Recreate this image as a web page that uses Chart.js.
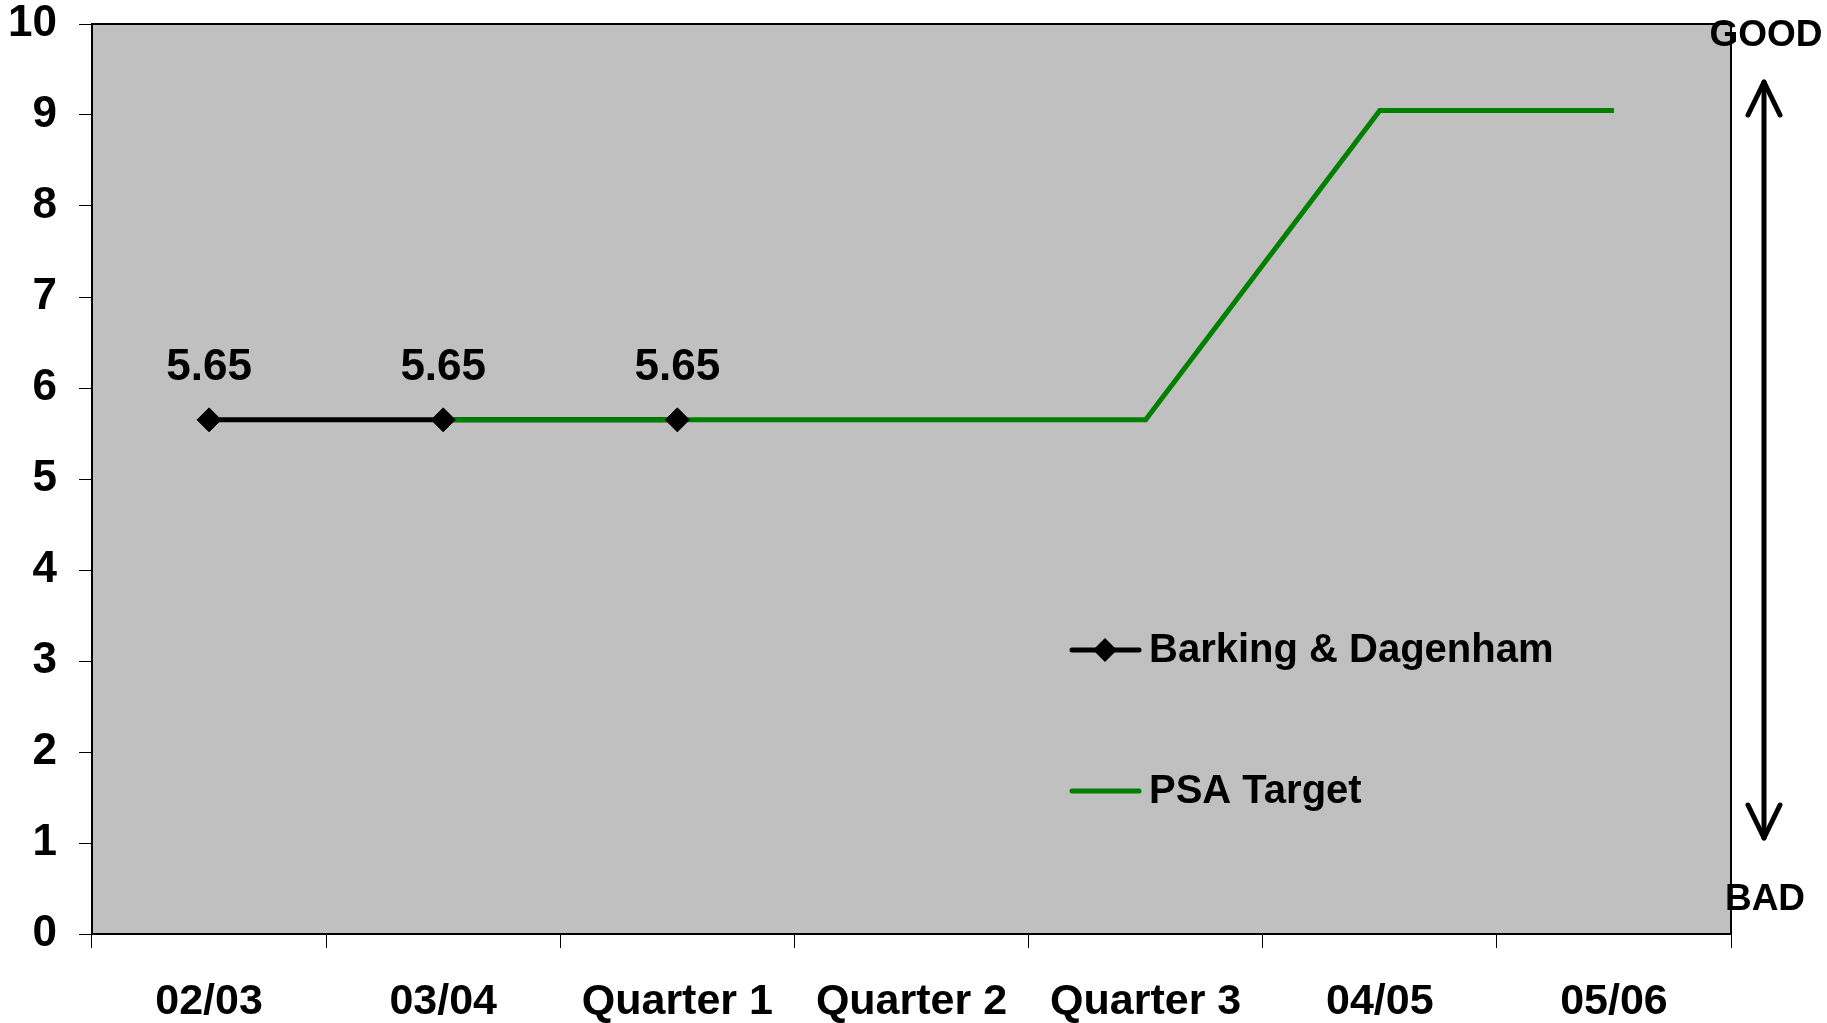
<!DOCTYPE html>
<html>
<head>
<meta charset="utf-8">
<script src="https://cdn.jsdelivr.net/npm/chart.js@4/dist/chart.umd.min.js"></script>
<style>
  body { margin: 0; background: #fff; }
  #wrap { width: 1827px; height: 1023px; position: relative; }
</style>
</head>
<body>
<div id="wrap"><canvas id="chart"></canvas></div>
<script>
var categories = ['02/03', '03/04', 'Quarter 1', 'Quarter 2', 'Quarter 3', '04/05', '05/06']
var barking = [5.65, 5.65, 5.65, null, null, null, null]
var psaTarget = [null, 5.65, 5.65, 5.65, 5.65, 9.05, 9.05]
var yTicks = [0, 1, 2, 3, 4, 5, 6, 7, 8, 9, 10]

var FONT = "'Liberation Sans', Arial, sans-serif"

var plotBg = {
  id: 'plotBg',
  beforeDraw: function (chart) {
    var a = chart.chartArea
    var c = chart.ctx
    c.save()
    c.fillStyle = '#c0c0c0'
    c.fillRect(a.left, a.top, a.right - a.left, a.bottom - a.top)
    c.restore()
  },
  afterDatasetsDraw: function (chart) {
    var a = chart.chartArea
    var c = chart.ctx
    c.save()
    c.strokeStyle = '#000'
    c.lineWidth = 2
    c.strokeRect(a.left, a.top, a.right - a.left, a.bottom - a.top)
    c.restore()
  }
}

var extras = {
  id: 'extras',
  afterDraw: function (chart) {
    var c = chart.ctx
    c.save()
    c.font = 'bold 44px ' + FONT
    c.fillStyle = '#000'
    c.textAlign = 'center'
    c.textBaseline = 'middle'

    // value labels over the diamonds
    var meta = chart.getDatasetMeta(2)
    meta.data.forEach(function (pt, i) {
      if (barking[i] == null) return
      c.fillText(barking[i].toFixed(2), pt.x, pt.y - 52)
    })

    // legend
    c.font = 'bold 40px ' + FONT
    c.lineCap = 'round'
    c.lineWidth = 5
    c.strokeStyle = '#000'
    c.beginPath(); c.moveTo(1072, 650); c.lineTo(1139, 650); c.stroke()
    c.beginPath()
    c.moveTo(1105, 638); c.lineTo(1117, 650); c.lineTo(1105, 662); c.lineTo(1093, 650)
    c.closePath(); c.fill()
    c.strokeStyle = '#008000'
    c.beginPath(); c.moveTo(1072, 791); c.lineTo(1139, 791); c.stroke()
    c.textAlign = 'left'
    c.fillText('Barking & Dagenham', 1149, 651)
    c.fillText('PSA Target', 1149, 792)

    // GOOD / BAD arrow
    c.textAlign = 'center'
    c.font = 'bold 37px ' + FONT
    c.fillText('GOOD', 1766, 36)
    c.fillText('BAD', 1765, 900)
    c.strokeStyle = '#000'
    c.lineWidth = 5
    c.lineCap = 'round'
    c.lineJoin = 'round'
    c.beginPath(); c.moveTo(1764, 82); c.lineTo(1764, 838); c.stroke()
    c.beginPath(); c.moveTo(1748, 115); c.lineTo(1764, 82); c.lineTo(1780, 115); c.stroke()
    c.beginPath(); c.moveTo(1748, 805); c.lineTo(1764, 838); c.lineTo(1780, 805); c.stroke()
    c.restore()
  }
}

function noPad (s) {
  s.paddingTop = 0
  s.paddingBottom = 0
  s.paddingLeft = 0
  s.paddingRight = 0
}

var chart = new Chart(document.getElementById('chart'), {
  type: 'line',
  data: {
    labels: categories,
    datasets: [
      {
        label: 'Barking & Dagenham',
        data: barking,
        borderColor: '#000',
        borderWidth: 5,
        pointRadius: 0,
        order: 3
      },
      {
        label: 'PSA Target',
        data: psaTarget,
        borderColor: '#008000',
        borderWidth: 5,
        pointRadius: 0,
        order: 2
      },
      {
        label: 'Barking points',
        data: barking,
        showLine: false,
        pointStyle: 'rectRot',
        pointRadius: 12,
        pointBackgroundColor: '#000',
        pointBorderColor: '#000',
        pointBorderWidth: 1,
        order: 1
      }
    ]
  },
  options: {
    responsive: true,
    maintainAspectRatio: false,
    animation: false,
    events: [],
    layout: { padding: { top: 24, right: 96, left: 0, bottom: 0 } },
    plugins: {
      legend: { display: false },
      tooltip: { enabled: false }
    },
    scales: {
      x: {
        offset: true,
        grid: { offset: true, drawOnChartArea: false, color: '#000', tickLength: 14, lineWidth: 1 },
        border: { color: '#000', width: 2 },
        ticks: {
          color: '#000',
          font: { family: FONT, size: 43, weight: 'bold' },
          padding: 28,
          maxRotation: 0,
          autoSkip: false
        },
        afterFit: function (s) { s.height = 89; noPad(s) }
      },
      y: {
        min: 0,
        max: 10,
        afterBuildTicks: function (s) { s.ticks = yTicks.map(function (v) { return { value: v } }) },
        grid: { drawOnChartArea: false, color: '#000', tickLength: 13, lineWidth: 1 },
        border: { color: '#000', width: 2 },
        ticks: {
          color: '#000',
          font: { family: FONT, size: 44, weight: 'bold' },
          padding: 22
        },
        afterFit: function (s) { s.width = 92; noPad(s) }
      }
    }
  },
  plugins: [plotBg, extras]
})
</script>
</body>
</html>
